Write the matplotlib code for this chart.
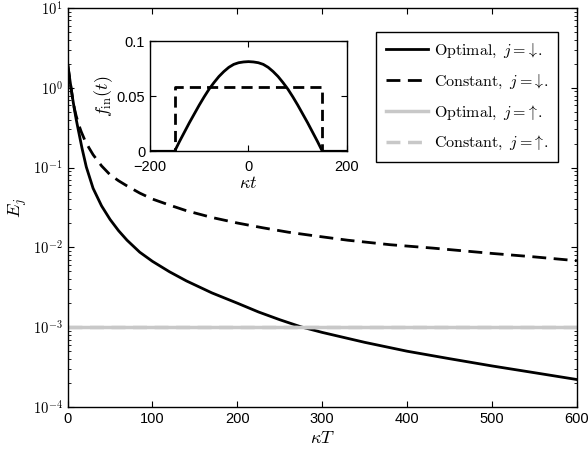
import math
import matplotlib
matplotlib.use('Agg')
import matplotlib.pyplot as plt
from matplotlib.ticker import FixedLocator, LogLocator, NullFormatter, FuncFormatter

plt.rcParams['mathtext.fontset'] = 'cm'
plt.rcParams['font.family'] = ['Liberation Sans', 'DejaVu Sans']
plt.rcParams['font.size'] = 10
plt.rcParams['axes.linewidth'] = 1.0

##########################
# error vs. kappa*T
T_opt_dn = [0, 2, 4, 6, 8, 10, 13, 17, 22, 30, 40, 50, 60, 70, 85, 100, 120, 140,
            170, 200, 225, 250, 275, 300, 350, 400, 450, 500, 550, 600]
E_opt_dn = [2.0, 1.41, 1.0, 0.724, 0.537, 0.407, 0.282, 0.174, 0.102, 0.055, 0.0331,
            0.0224, 0.0162, 0.0123, 0.0087, 0.00668, 0.00495, 0.0038, 0.00269, 0.0020,
            0.00155, 0.00124, 0.00101, 0.00086, 0.000646, 0.0005, 0.000403, 0.000327,
            0.000269, 0.000221]
T_con_dn = [0, 2, 4, 6, 8, 10, 13, 16, 20, 25, 30, 40, 50, 60, 70, 85, 100, 120,
            140, 170, 200, 230, 260, 290, 330, 380, 430, 500, 550, 600]
E_con_dn = [2.0, 1.41, 1.0, 0.724, 0.55, 0.447, 0.347, 0.282, 0.224, 0.178, 0.145,
            0.105, 0.0813, 0.0684, 0.0589, 0.0479, 0.0403, 0.0339, 0.0288, 0.0237,
            0.0202, 0.0176, 0.0155, 0.014, 0.0123, 0.0108, 0.0098, 0.0084, 0.0076, 0.0068]
T_up = [0, 600]
E_opt_up = [1e-3, 1e-3]
E_con_up = [1e-3, 1e-3]

# input pulse shapes (inset)
t_opt = [-200, -150, -140, -130, -120, -110, -100, -90, -80, -70, -60, -50, -40, -30,
         -20, -10, 0, 10, 20, 30, 40, 50, 60, 70, 80, 90, 100, 110, 120, 130, 140,
         150, 200]
f_opt = [0, 0, 0.009, 0.0175, 0.026, 0.034, 0.042, 0.0495, 0.0565, 0.0625, 0.068,
         0.0725, 0.0763, 0.079, 0.0805, 0.0812, 0.0815, 0.0812, 0.0805, 0.079, 0.0763,
         0.0725, 0.068, 0.0625, 0.0565, 0.0495, 0.042, 0.034, 0.026, 0.0175, 0.009,
         0, 0]
t_con = [-200, -150, -150, 150, 150, 200]
f_con = [0, 0, 0.058, 0.058, 0, 0]

fig = plt.figure(figsize=(5.88, 4.55), dpi=100)
ax = fig.add_axes([0.115, 0.1055, 0.866, 0.877])
ax.plot(T_opt_dn, E_opt_dn, '-', color='k', lw=2, label=r'$\mathrm{Optimal},\ j=\!\downarrow\!.$')
ax.plot(T_con_dn, E_con_dn, '--', color='k', lw=2, dashes=(5, 2.7),
        label=r'$\mathrm{Constant},\ j=\!\downarrow\!.$')
ax.plot(T_up, E_opt_up, '-', color='#c8c8c8', lw=2.5, label=r'$\mathrm{Optimal},\ j=\!\uparrow\!.$')
ax.plot(T_up, E_con_up, '--', color='#c8c8c8', lw=2.5, dashes=(4, 2.2),
        label=r'$\mathrm{Constant},\ j=\!\uparrow\!.$')
ax.set_yscale('log')
ax.set_xlim(0, 600)
ax.set_ylim(1e-4, 10)
ax.xaxis.set_major_locator(FixedLocator([0, 100, 200, 300, 400, 500, 600]))
ax.yaxis.set_major_locator(FixedLocator([1e-4, 1e-3, 1e-2, 1e-1, 1, 10]))
ax.yaxis.set_minor_locator(LogLocator(base=10, subs=range(2, 10)))
ax.yaxis.set_minor_formatter(NullFormatter())
ax.yaxis.set_major_formatter(FuncFormatter(
    lambda v, p: r'$\mathsf{10^{%d}}$' % round(math.log10(v))))
ax.tick_params(which='both', direction='in', top=True, right=True)
ax.tick_params(which='major', length=4, labelsize=10.5)
ax.tick_params(which='minor', length=2)
ax.set_xlabel(r'$\kappa T$', fontsize=13, labelpad=3)
ax.set_ylabel(r'$E_j$', fontsize=13, labelpad=3)
leg = ax.legend(loc='upper right', bbox_to_anchor=(558 / 588, 1 - 32 / 455),
                bbox_transform=fig.transFigure, borderaxespad=0, fancybox=False,
                framealpha=1, edgecolor='k', handlelength=2.65, handletextpad=0.35,
                labelspacing=0.8, fontsize=11.5, borderpad=0.6)
leg.get_frame().set_linewidth(1.0)

# inset with the pulse shapes
ins = fig.add_axes([0.2551, 0.6675, 0.335, 0.2418])
ins.plot(t_opt, f_opt, '-', color='k', lw=2)
ins.plot(t_con, f_con, '--', color='k', lw=2, dashes=(4, 2.2))
ins.set_xlim(-200, 200)
ins.set_ylim(0, 0.1)
ins.set_xticks([-200, 0, 200])
ins.set_yticks([0, 0.05, 0.1])
ins.set_yticklabels(['0', '0.05', '0.1'])
ins.tick_params(direction='in', top=True, right=True, length=4, labelsize=10.5)
ins.tick_params(axis='x', pad=6)
ins.set_xlabel(r'$\kappa t$', fontsize=13, labelpad=1)
ins.set_ylabel(r'$f_{\rm in}(t)$', fontsize=13, labelpad=1)

plt.savefig('out.png', dpi=100)
